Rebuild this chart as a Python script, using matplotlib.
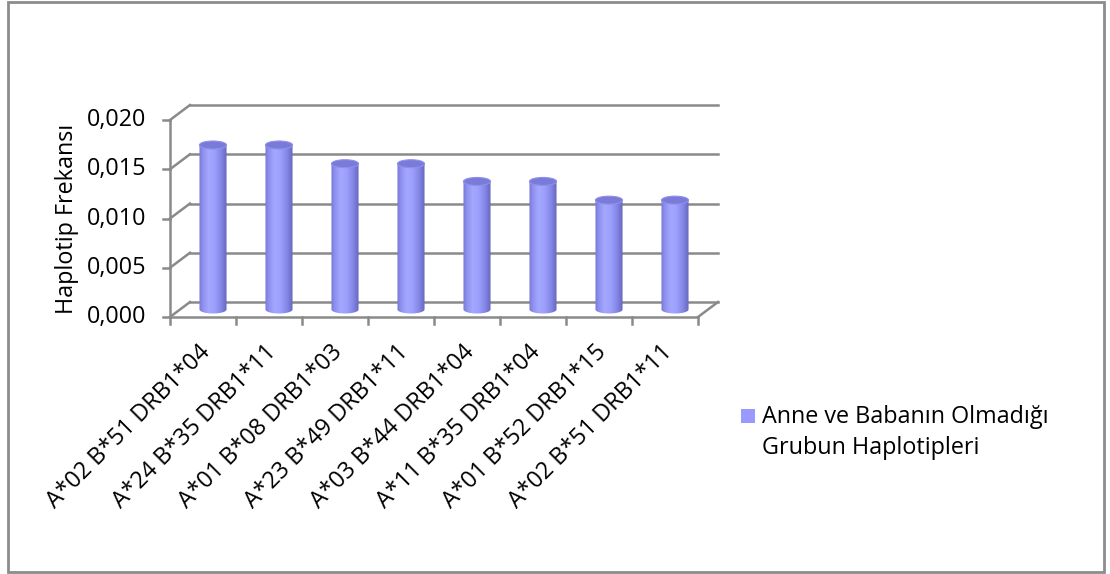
import numpy as np
import matplotlib.pyplot as plt
from matplotlib.patches import Ellipse, Rectangle
from matplotlib.path import Path
from matplotlib.colors import LinearSegmentedColormap

plt.rcParams['font.family'] = ['Open Sans', 'DejaVu Sans']

# haplotip frekanslari
haplotipler = ["A*02 B*51 DRB1*04", "A*24 B*35 DRB1*11", "A*01 B*08 DRB1*03",
               "A*23 B*49 DRB1*11", "A*03 B*44 DRB1*04", "A*11 B*35 DRB1*04",
               "A*01 B*52 DRB1*15", "A*02 B*51 DRB1*11"]
frekans = [0.0167, 0.0167, 0.0148, 0.0148, 0.0130, 0.0130, 0.0111, 0.0111]
y_ticks = [0.000, 0.005, 0.010, 0.015, 0.020]
y_tick_labels = ["0,000", "0,005", "0,010", "0,015", "0,020"]
seri_adi = "Anne ve Babanın Olmadığı\nGrubun Haplotipleri"

W, H = 1110, 574
FS = 16.8
fig = plt.figure(figsize=(W / 100, H / 100), dpi=100)

# cerceve
fig.patches.append(Rectangle((8 / W, 2 / H), 1096 / W, 570 / H, transform=fig.transFigure,
                             fill=False, edgecolor="#8c8c8c", linewidth=2))

ax_l, ax_r, ax_t, ax_b = 170, 698, 120, 317
ax = fig.add_axes([ax_l / W, 1 - ax_b / H, (ax_r - ax_l) / W, (ax_b - ax_t) / H])
n = len(frekans)
ax.set_xlim(0, n)
ax.set_ylim(0, 0.020)
ax.set_autoscale_on(False)
for s in ax.spines.values():
    s.set_visible(False)
ax.patch.set_visible(False)

# derinlik kaymasi (piksel -> veri)
px_x = n / (ax_r - ax_l)
px_y = 0.020 / (ax_b - ax_t)
dx, dy = 20 * px_x, 15 * px_y

grid_c = "#8a8a8a"
lw = 1.8
# arka duvar cizgileri ve sol duvar kosegenleri
for v in y_ticks:
    ax.plot([dx, n + dx], [v + dy, v + dy], color=grid_c, lw=lw, clip_on=False, zorder=1)
    ax.plot([0, dx], [v, v + dy], color=grid_c, lw=lw, clip_on=False, zorder=1)
    ax.plot([-7 * px_x, 0], [v, v], color=grid_c, lw=lw, clip_on=False, zorder=1)
ax.plot([0, 0], [0, 0.020], color=grid_c, lw=lw, clip_on=False, zorder=1)
# zemin
ax.plot([0, n], [0, 0], color=grid_c, lw=lw, clip_on=False, zorder=1)
ax.plot([n, n + dx], [0, dy], color=grid_c, lw=lw, clip_on=False, zorder=1)
for i in range(n + 1):
    ax.plot([i, i], [0, -7 * px_y], color=grid_c, lw=lw, clip_on=False, zorder=1)

ax.set_xticks([])
ax.set_yticks([])
for v, lab in zip(y_ticks, y_tick_labels):
    ax.text(-24 * px_x, v, lab, ha="right", va="center", fontsize=FS, color="black")
ax.text(-103 * px_x, 0.010, "Haplotip Frekansı", rotation=90, ha="center", va="center",
        fontsize=FS)

# x etiketleri
for i, lab in enumerate(haplotipler):
    ax.text(i + 0.5 - 5 * px_x, -23 * px_y, lab, rotation=45, rotation_mode="anchor",
            ha="right", va="top", fontsize=FS)

# silindirler
cmap = LinearSegmentedColormap.from_list("cyl", [
    (0.0, "#7677d2"), (0.12, "#8d8fee"), (0.35, "#a5a8ff"), (0.55, "#9da0fc"),
    (0.8, "#8486e6"), (1.0, "#6566bd")])
grad = np.linspace(0, 1, 64)[None, :]
bw = 0.41
eh = 8 * px_y
for i, v in enumerate(frekans):
    cx = i + 0.5 + dx / 2
    base = dy / 2
    top = v + dy / 2
    t = np.linspace(np.pi, 2 * np.pi, 40)
    xs = np.concatenate([[cx - bw / 2], cx + bw / 2 * np.cos(t), [cx + bw / 2]])
    ys = np.concatenate([[top], base + eh / 2 * np.sin(t), [top]])
    clip = Path(np.column_stack([xs, ys]))
    im = ax.imshow(grad, cmap=cmap, aspect="auto", extent=[cx - bw / 2, cx + bw / 2, base - eh, top],
                   zorder=3, interpolation="bicubic")
    im.set_clip_path(clip, ax.transData)
    ax.add_patch(Ellipse((cx, top), bw, eh, facecolor="#7a7bd8", edgecolor="#8e90ee",
                         linewidth=0.8, zorder=4))

# lejant
fig.patches.append(Rectangle((741 / W, 1 - 423 / H), 14 / W, 14 / H, transform=fig.transFigure,
                             facecolor="#9999ff", edgecolor="none"))
lines = seri_adi.split("\n")
fig.text(762 / W, 1 - 417 / H, lines[0], ha="left", va="center", fontsize=FS)
fig.text(762 / W, 1 - 448 / H, lines[1], ha="left", va="center", fontsize=FS)

fig.savefig("out.png", dpi=100)
